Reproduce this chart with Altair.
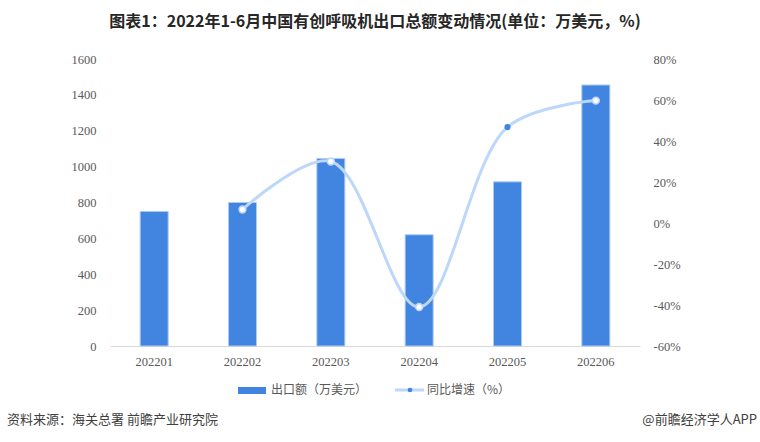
import altair as alt
import pandas as pd

# ---- data ----
months = ["202201", "202202", "202203", "202204", "202205", "202206"]
export_values = [750, 800, 1045, 620, 915, 1455]          # 万美元
growth_rates = [None, 6.6, 30.0, -41.0, 46.8, 59.7]        # %
highlight_months = ["202205"]
left_ticks = [0, 200, 400, 600, 800, 1000, 1200, 1400, 1600]
right_ticks = [-60, -40, -20, 0, 20, 40, 60, 80]

title_text = "图表1：2022年1-6月中国有创呼吸机出口总额变动情况(单位：万美元，%)"
legend_bar = "出口额（万美元）"
legend_line = "同比增速（%）"
source_text = "资料来源：海关总署 前瞻产业研究院"
brand_text = "@前瞻经济学人APP"

df = pd.DataFrame({"month": months, "value": export_values, "growth": growth_rates})

BAR = "#4185e1"
LINE = "#bcd7fa"
LABEL = "#595959"
CJK = "Noto Sans CJK SC"
SERIF = "Liberation Serif"

W, H = 530, 287

x_enc = alt.X("month:N", sort=months, title=None,
              scale=alt.Scale(paddingInner=0, paddingOuter=0),
              axis=alt.Axis(labelAngle=0, ticks=False, domainColor="#d9d9d9",
                            labelFont=SERIF, labelFontSize=12.5, labelColor=LABEL,
                            labelPadding=9))

base = alt.Chart(df)

bars = base.mark_bar(size=28, color=BAR, stroke="#a9cbf5", strokeWidth=1).encode(
    x=x_enc,
    y=alt.Y("value:Q", title=None,
            scale=alt.Scale(domain=[0, 1600], nice=False),
            axis=alt.Axis(values=left_ticks, grid=False, domain=False, ticks=False,
                          format="d",
                          labelFont=SERIF, labelFontSize=12.5, labelColor=LABEL,
                          labelPadding=14)),
)

y2 = alt.Y("growth:Q", title=None,
           scale=alt.Scale(domain=[-60, 80], nice=False),
           axis=alt.Axis(values=right_ticks, grid=False, domain=False, ticks=False,
                         orient="right", labelExpr="datum.value + '%'",
                         labelFont=SERIF, labelFontSize=12.5, labelColor=LABEL,
                         labelPadding=13))

line = base.transform_filter("isValid(datum.growth)").mark_line(
    color=LINE, strokeWidth=3, interpolate="catmull-rom"
).encode(x=x_enc, y=y2)

hl_expr = " || ".join([f"datum.month == '{m}'" for m in highlight_months])

points = base.transform_filter("isValid(datum.growth)").mark_point(
    shape="circle", filled=True, opacity=1
).encode(
    x=x_enc,
    y=alt.Y("growth:Q", scale=alt.Scale(domain=[-60, 80], nice=False), axis=None),
    fill=alt.condition(hl_expr, alt.value(BAR), alt.value("#ffffff")),
    stroke=alt.condition(hl_expr, alt.value(BAR), alt.value(LINE)),
    strokeWidth=alt.value(1.5),
    size=alt.condition(hl_expr, alt.value(22), alt.value(48)),
)

one = alt.Chart(pd.DataFrame({"k": [0]}))

title = one.mark_text(text=title_text, font=CJK, fontSize=16, fontWeight="bold",
                      color="#262626", align="center", baseline="middle").encode(
    x=alt.value(W / 2), y=alt.value(-37))

src = one.mark_text(text=source_text, font=CJK, fontSize=13, color="#404040",
                    align="left", baseline="middle").encode(
    x=alt.value(-103), y=alt.value(361))

brand = one.mark_text(text=brand_text, font=CJK, fontSize=13, color="#404040",
                      align="right", baseline="middle").encode(
    x=alt.value(647), y=alt.value(361))

leg_rect = one.mark_rect(color=BAR).encode(
    x=alt.value(128), x2=alt.value(156), y=alt.value(328), y2=alt.value(335))
leg_t1 = one.mark_text(text=legend_bar, font=CJK, fontSize=12, color=LABEL,
                       align="left", baseline="middle").encode(
    x=alt.value(161), y=alt.value(331))
leg_line = one.mark_rule(color=LINE, strokeWidth=3).encode(
    x=alt.value(285), x2=alt.value(314), y=alt.value(331))
leg_dot = one.mark_point(shape="circle", filled=True, color=BAR, size=22, opacity=1).encode(
    x=alt.value(300), y=alt.value(331))
leg_t2 = one.mark_text(text=legend_line, font=CJK, fontSize=12, color=LABEL,
                       align="left", baseline="middle").encode(
    x=alt.value(317), y=alt.value(331))

chart = alt.layer(
    bars, line, points, title, src, brand, leg_rect, leg_t1, leg_line, leg_dot, leg_t2
).resolve_scale(y="independent").properties(
    width=W, height=H,
    autosize=alt.AutoSizeParams(type="none"),
    padding={"left": 110, "top": 59, "right": 120, "bottom": 96},
).configure_view(strokeWidth=0, stroke="transparent").configure(
    background="white", style={"cell": {"stroke": "transparent", "strokeWidth": 0}}
)

chart.save("out.html", embed_options={"renderer": "svg", "actions": False})
